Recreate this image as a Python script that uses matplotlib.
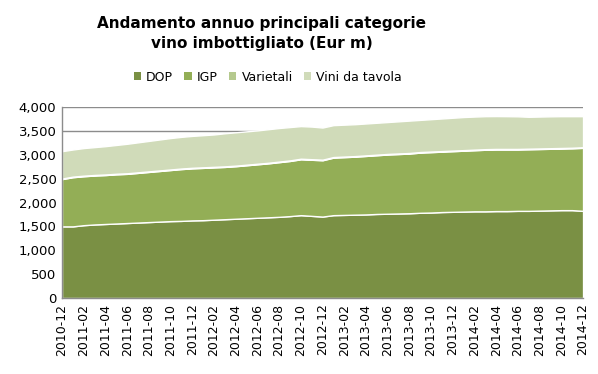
import numpy as np
import matplotlib
matplotlib.use("Agg")
import matplotlib.pyplot as plt
from matplotlib.patches import Patch

# monthly periods 2010-12 .. 2014-12
months = [f"{y}-{m:02d}" for y, m in
          [(2010, 12)] + [(y, m) for y in (2011, 2012, 2013, 2014) for m in range(1, 13)]]

dop = [1500, 1500, 1525, 1540, 1550, 1560, 1570, 1580, 1590, 1600,
       1610, 1615, 1625, 1630, 1640, 1650, 1660, 1670, 1680, 1690,
       1700, 1715, 1735, 1720, 1705, 1735, 1740, 1745, 1750, 1760,
       1765, 1770, 1775, 1785, 1790, 1800, 1805, 1810, 1815, 1815,
       1820, 1820, 1825, 1825, 1830, 1835, 1840, 1840, 1825]
igp = [990, 1030, 1025, 1025, 1025, 1030, 1030, 1040, 1050, 1060,
       1070, 1085, 1090, 1095, 1095, 1095, 1100, 1110, 1120, 1130,
       1145, 1155, 1170, 1175, 1180, 1205, 1210, 1215, 1225, 1230,
       1240, 1245, 1250, 1260, 1265, 1265, 1270, 1275, 1280, 1290,
       1290, 1290, 1285, 1290, 1290, 1290, 1290, 1295, 1320]
varietali = [12] * 49
vini_tavola = [573, 568, 578, 583, 593, 603, 618, 628, 638, 648,
               658, 663, 668, 673, 678, 693, 698, 698, 698, 703,
               703, 698, 683, 683, 673, 668, 668, 668, 668, 668,
               668, 673, 678, 673, 678, 683, 688, 693, 693, 691,
               688, 686, 683, 668, 668, 668, 666, 661, 651]

labels = ["DOP", "IGP", "Varietali", "Vini da tavola"]
colors = ["#7a9044", "#93ae56", "#b5c98e", "#d0dbb9"]

fig = plt.figure(figsize=(5.98, 3.74), dpi=100)
ax = fig.add_axes([0.1037, 0.2032, 0.8713, 0.5107])

x = np.arange(len(months))
ax.stackplot(x, dop, igp, varietali, vini_tavola, colors=colors,
             edgecolor="white", linewidth=1.0, zorder=2)

ax.set_xlim(0, len(months) - 1)
ax.set_ylim(0, 4000)
ax.set_yticks(np.arange(0, 4001, 500))
ax.set_yticklabels([f"{v:,}" for v in range(0, 4001, 500)], fontsize=9.5)
ax.yaxis.grid(True, color="#8c8c8c", linewidth=1.0, zorder=0)
ax.set_axisbelow(True)

ax.set_xticks(x[::2])
ax.set_xticklabels(months[::2], rotation=90, fontsize=9)
ax.tick_params(length=0, pad=4)

for s in ("top", "right"):
    ax.spines[s].set_visible(False)
for s in ("left", "bottom"):
    ax.spines[s].set_color("#8c8c8c")
    ax.spines[s].set_linewidth(1.0)

fig.text(0.438, 0.910, "Andamento annuo principali categorie\nvino imbottigliato (Eur m)",
         ha="center", va="center", fontsize=11, fontweight="bold", linespacing=1.4)

handles = [Patch(facecolor=c, edgecolor="none") for c in colors]
fig.legend(handles, labels, loc="center", bbox_to_anchor=(0.448, 0.794), ncol=4,
           frameon=False, prop={"size": 9},
           handlelength=0.6, handleheight=0.6, handletextpad=0.4, columnspacing=0.9)

fig.savefig("out.png", dpi=100)
